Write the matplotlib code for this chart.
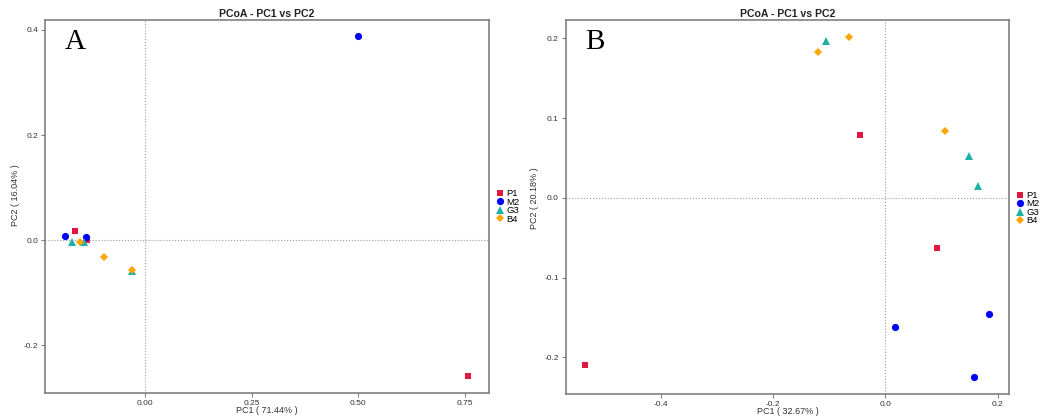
import matplotlib.pyplot as plt

plt.rcParams['font.family'] = ['Liberation Sans', 'DejaVu Sans']

# 分组与样式
groups = ["P1", "M2", "G3", "B4"]
colors = ["#E0173F", "#0000FF", "#1FB0A6", "#FFA500"]
markers = ["s", "o", "^", "D"]
msizes = [5, 5.2, 6, 3.8]

# 图A坐标 (PC1, PC2)
a_x = {
    "P1": [0.759, -0.164, -0.136],
    "M2": [0.500, -0.188, -0.138],
    "G3": [-0.171, -0.144, -0.031],
    "B4": [-0.152, -0.096, -0.031],
}
a_y = {
    "P1": [-0.259, 0.018, 0.001],
    "M2": [0.389, 0.008, 0.006],
    "G3": [-0.003, -0.003, -0.059],
    "B4": [-0.004, -0.033, -0.057],
}

# 图B坐标 (PC1, PC2)
b_x = {
    "P1": [-0.534, -0.045, 0.091],
    "M2": [0.018, 0.185, 0.158],
    "G3": [-0.106, 0.149, 0.165],
    "B4": [-0.120, -0.065, 0.106],
}
b_y = {
    "P1": [-0.210, 0.079, -0.063],
    "M2": [-0.162, -0.146, -0.225],
    "G3": [0.196, 0.052, 0.0145],
    "B4": [0.183, 0.201, 0.084],
}

a_xticks = [0.0, 0.25, 0.5, 0.75]
a_xticklabels = ["0.00", "0.25", "0.50", "0.75"]
a_yticks = [-0.2, 0.0, 0.2, 0.4]
a_yticklabels = ["-0.2", "0.0", "0.2", "0.4"]
b_xticks = [-0.4, -0.2, 0.0, 0.2]
b_xticklabels = ["-0.4", "-0.2", "0.0", "0.2"]
b_yticks = [-0.2, -0.1, 0.0, 0.1, 0.2]
b_yticklabels = ["-0.2", "-0.1", "0.0", "0.1", "0.2"]

fig = plt.figure(figsize=(10.51, 4.19), dpi=100)


def draw_panel(rect, xs, ys, xlim, ylim, xticks, xtl, yticks, ytl, xlabel, ylabel, letter, leg_y, ylab_pos):
    ax = fig.add_axes(rect)
    ax.axvline(0, color="#9a9a9a", linestyle=":", linewidth=0.8, zorder=1)
    ax.axhline(0, color="#9a9a9a", linestyle=":", linewidth=0.8, zorder=1)
    for g, c, m, s in zip(groups, colors, markers, msizes):
        ax.plot(xs[g], ys[g], linestyle="none", marker=m, color=c, markersize=s,
                markeredgewidth=0, label=g, zorder=3)
    ax.set_xlim(xlim)
    ax.set_ylim(ylim)
    ax.set_xticks(xticks)
    ax.set_xticklabels(xtl)
    ax.set_yticks(yticks)
    ax.set_yticklabels(ytl)
    for sp in ax.spines.values():
        sp.set_color("#808080")
        sp.set_linewidth(1.2)
    ax.tick_params(colors="#808080", labelcolor="#333333", labelsize=6, length=3, width=0.8, pad=2)
    ax.set_xlabel(xlabel, fontsize=6.5, color="#333333", labelpad=-1)
    ax.set_ylabel(ylabel, fontsize=6.5, color="#333333")
    ax.yaxis.set_label_coords(*ylab_pos)
    ax.set_title("PCoA - PC1 vs PC2", fontsize=7.6, fontweight="bold", color="#222222", pad=2)
    ax.text(0.045, 0.975, letter, transform=ax.transAxes, fontsize=21, ha="left", va="top",
            family="Liberation Serif", color="black")
    ax.legend(loc="center left", bbox_to_anchor=(1.005, leg_y), frameon=False, fontsize=6.8,
              handlelength=0.8, handletextpad=0.3, labelspacing=-0.05, borderpad=0)
    return ax


draw_panel([45 / 1051, 26 / 419, 444 / 1051, 373 / 419], a_x, a_y, (-0.235, 0.8075), (-0.291, 0.419),
           a_xticks, a_xticklabels, a_yticks, a_yticklabels,
           "PC1 ( 71.44% )", "PC2 ( 16.04% )", "A", 0.50, (-0.056, 0.53))
draw_panel([565.7 / 1051, 25 / 419, 443.6 / 1051, 374 / 419], b_x, b_y, (-0.5687, 0.2205), (-0.2459, 0.2229),
           b_xticks, b_xticklabels, b_yticks, b_yticklabels,
           "PC1 ( 32.67% )", "PC2 ( 20.18% )", "B", 0.497, (-0.06, 0.524))

fig.savefig("out.png", dpi=100)
